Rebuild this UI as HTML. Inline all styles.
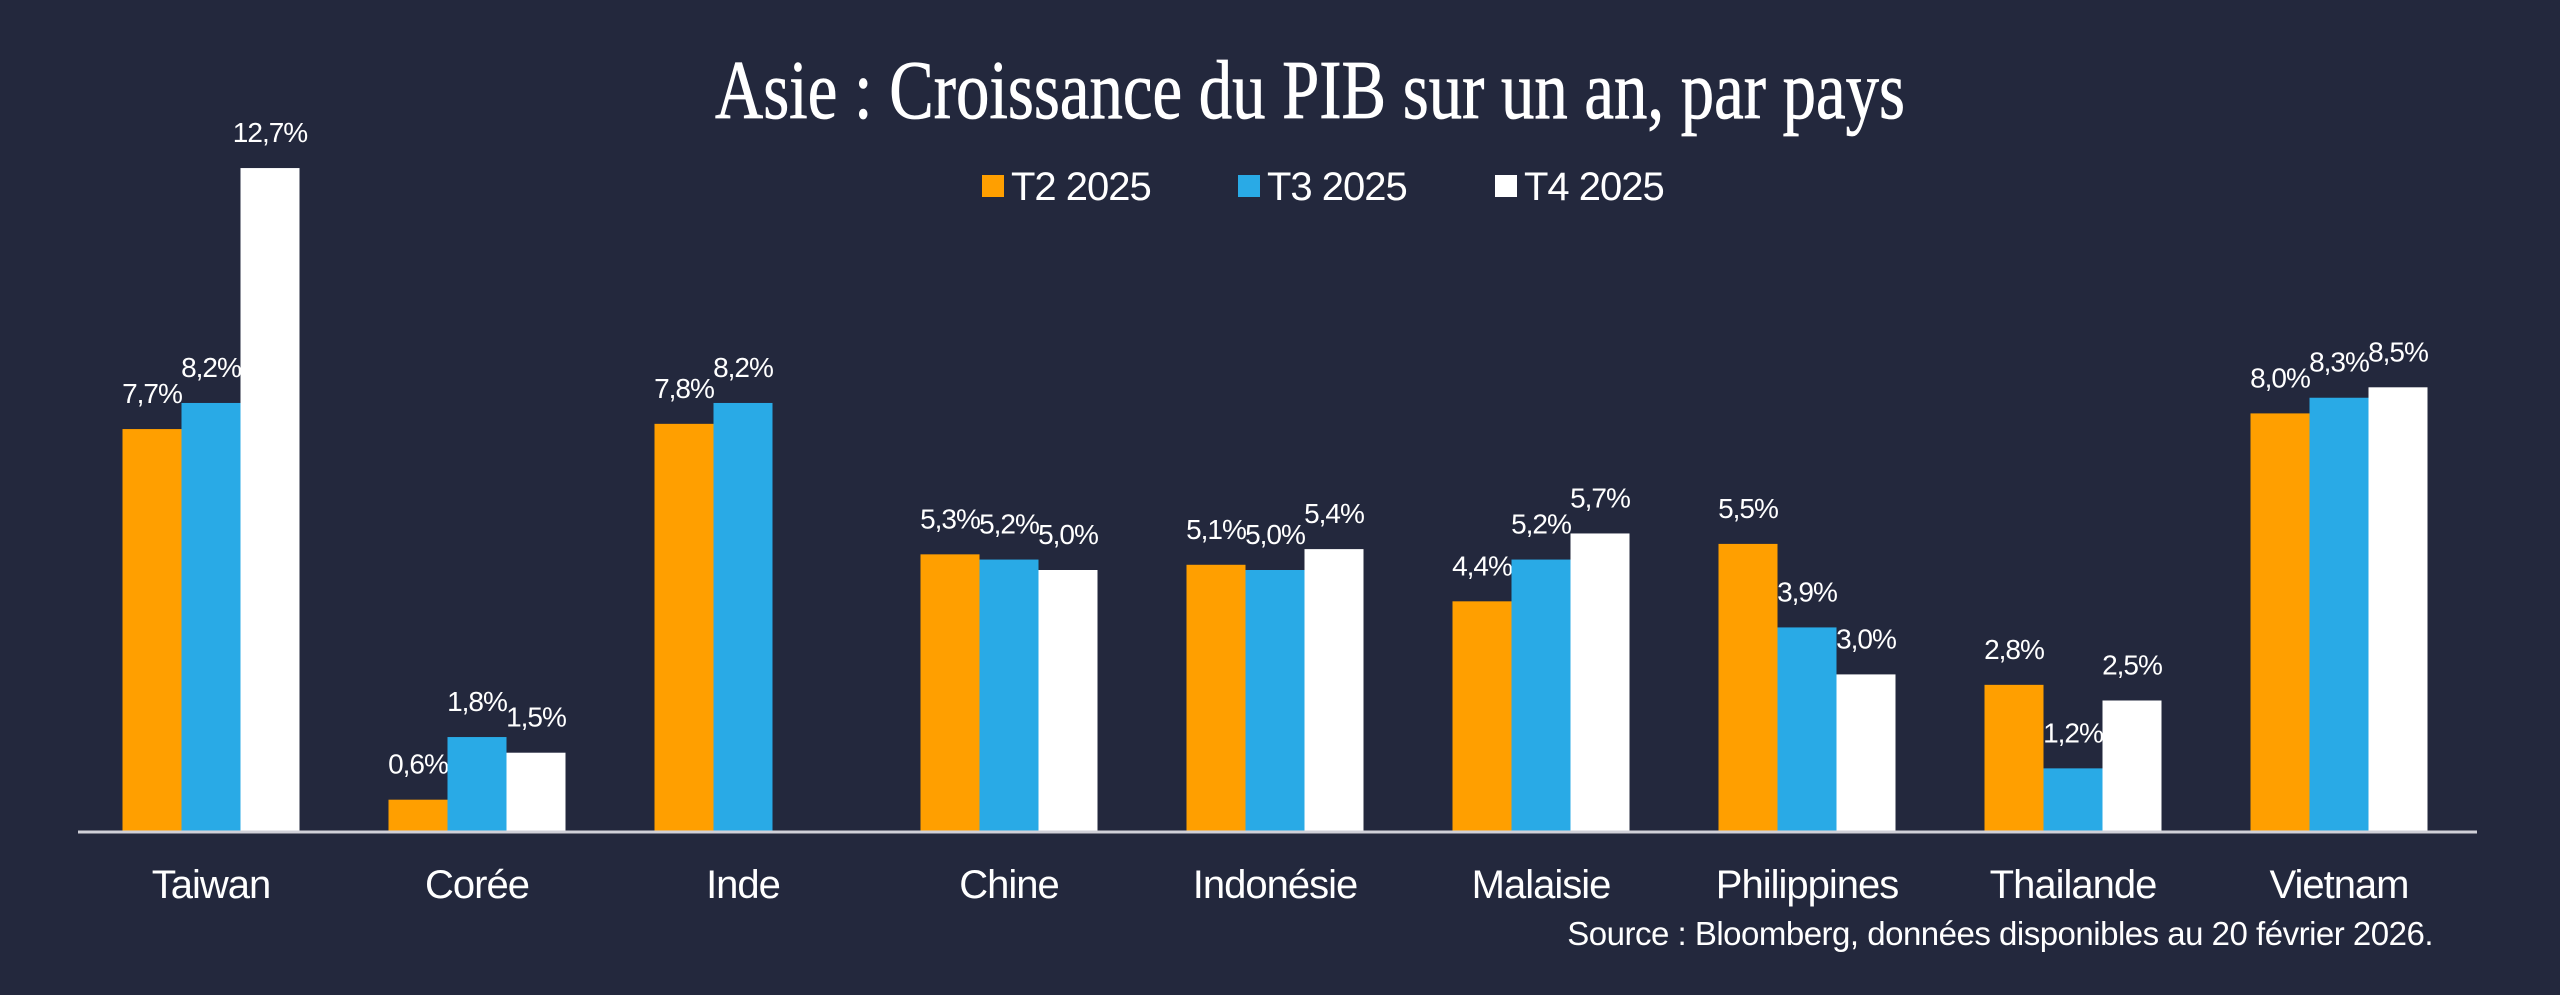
<!DOCTYPE html>
<html><head><meta charset="utf-8"><style>
html,body{margin:0;padding:0;background:#23283d;}
svg{display:block}
</style></head><body>
<svg id="chart" width="2560" height="995" viewBox="0 0 2560 995" xmlns="http://www.w3.org/2000/svg">
<rect x="0" y="0" width="2560" height="995" fill="#23283d"/>
<text x="1310" y="118" text-anchor="middle" font-family="Liberation Serif, serif" font-size="84" fill="#ffffff" stroke="#ffffff" stroke-width="0.8" textLength="1190" lengthAdjust="spacingAndGlyphs">Asie : Croissance du PIB sur un an, par pays</text>
<g font-family="Liberation Sans, sans-serif" font-size="40" fill="#ffffff" letter-spacing="-1">
<rect x="982" y="175" width="22" height="22" fill="#ff9f00"/>
<text x="1011" y="200">T2 2025</text>
<rect x="1238" y="175" width="22" height="22" fill="#29aae6"/>
<text x="1267" y="200">T3 2025</text>
<rect x="1495" y="175" width="22" height="22" fill="#ffffff"/>
<text x="1524" y="200">T4 2025</text>
</g>
<g id="bars"></g>
<line x1="78" y1="832" x2="2477" y2="832" stroke="#d0d0d8" stroke-width="3"/>
<g id="cats"></g>
<text x="2433" y="945" text-anchor="end" font-family="Liberation Sans, sans-serif" font-size="33" fill="#ffffff" letter-spacing="-0.5">Source : Bloomberg, données disponibles au 20 février 2026.</text>
</svg>
<script>
const categories = ["Taiwan","Corée","Inde","Chine","Indonésie","Malaisie","Philippines","Thailande","Vietnam"];
const seriesT2 = [7.7,0.6,7.8,5.3,5.1,4.4,5.5,2.8,8.0];
const seriesT3 = [8.2,1.8,8.2,5.2,5.0,5.2,3.9,1.2,8.3];
const seriesT4 = [12.7,1.5,null,5.0,5.4,5.7,3.0,2.5,8.5];
const seriesNames = ["t2","t3","t4"];
const colors = ["#ff9f00","#29aae6","#ffffff"];

const NS = "http://www.w3.org/2000/svg";
const baseY = 831, pxPerUnit = 52.2;
const firstCenter = 211, step = 266, barW = 59;
function yScale(v){ return baseY - v*pxPerUnit; }
function xCenter(i){ return firstCenter + i*step; }
function fmt(v){ return v.toFixed(1).replace('.',',') + '%'; }

const barsG = document.getElementById('bars');
const catsG = document.getElementById('cats');
const all = [seriesT2, seriesT3, seriesT4];
categories.forEach((c, i) => {
  const cx = xCenter(i);
  all.forEach((s, k) => {
    const v = s[i];
    if (v === null || v === undefined) return;
    const x = cx - 1.5*barW + k*barW;
    const y = yScale(v);
    const r = document.createElementNS(NS, 'rect');
    r.setAttribute('x', x); r.setAttribute('y', y);
    r.setAttribute('width', barW); r.setAttribute('height', baseY - y);
    r.setAttribute('fill', colors[k]);
    
    
    barsG.appendChild(r);
    const t = document.createElementNS(NS, 'text');
    t.setAttribute('x', x + barW/2); t.setAttribute('y', y - 26);
    t.setAttribute('text-anchor', 'middle');
    t.setAttribute('font-family', 'Liberation Sans, sans-serif');
    t.setAttribute('font-size', '28'); t.setAttribute('fill', '#ffffff');
    t.setAttribute('letter-spacing', '-1');
    t.textContent = fmt(v);
    
    
    barsG.appendChild(t);
  });
  const ct = document.createElementNS(NS, 'text');
  ct.setAttribute('x', cx); ct.setAttribute('y', 898);
  ct.setAttribute('text-anchor', 'middle');
  ct.setAttribute('font-family', 'Liberation Sans, sans-serif');
  ct.setAttribute('font-size', '40'); ct.setAttribute('fill', '#ffffff');
  ct.setAttribute('letter-spacing', '-1');
  ct.textContent = c;
  
  
  catsG.appendChild(ct);
});
</script>
</body></html>
